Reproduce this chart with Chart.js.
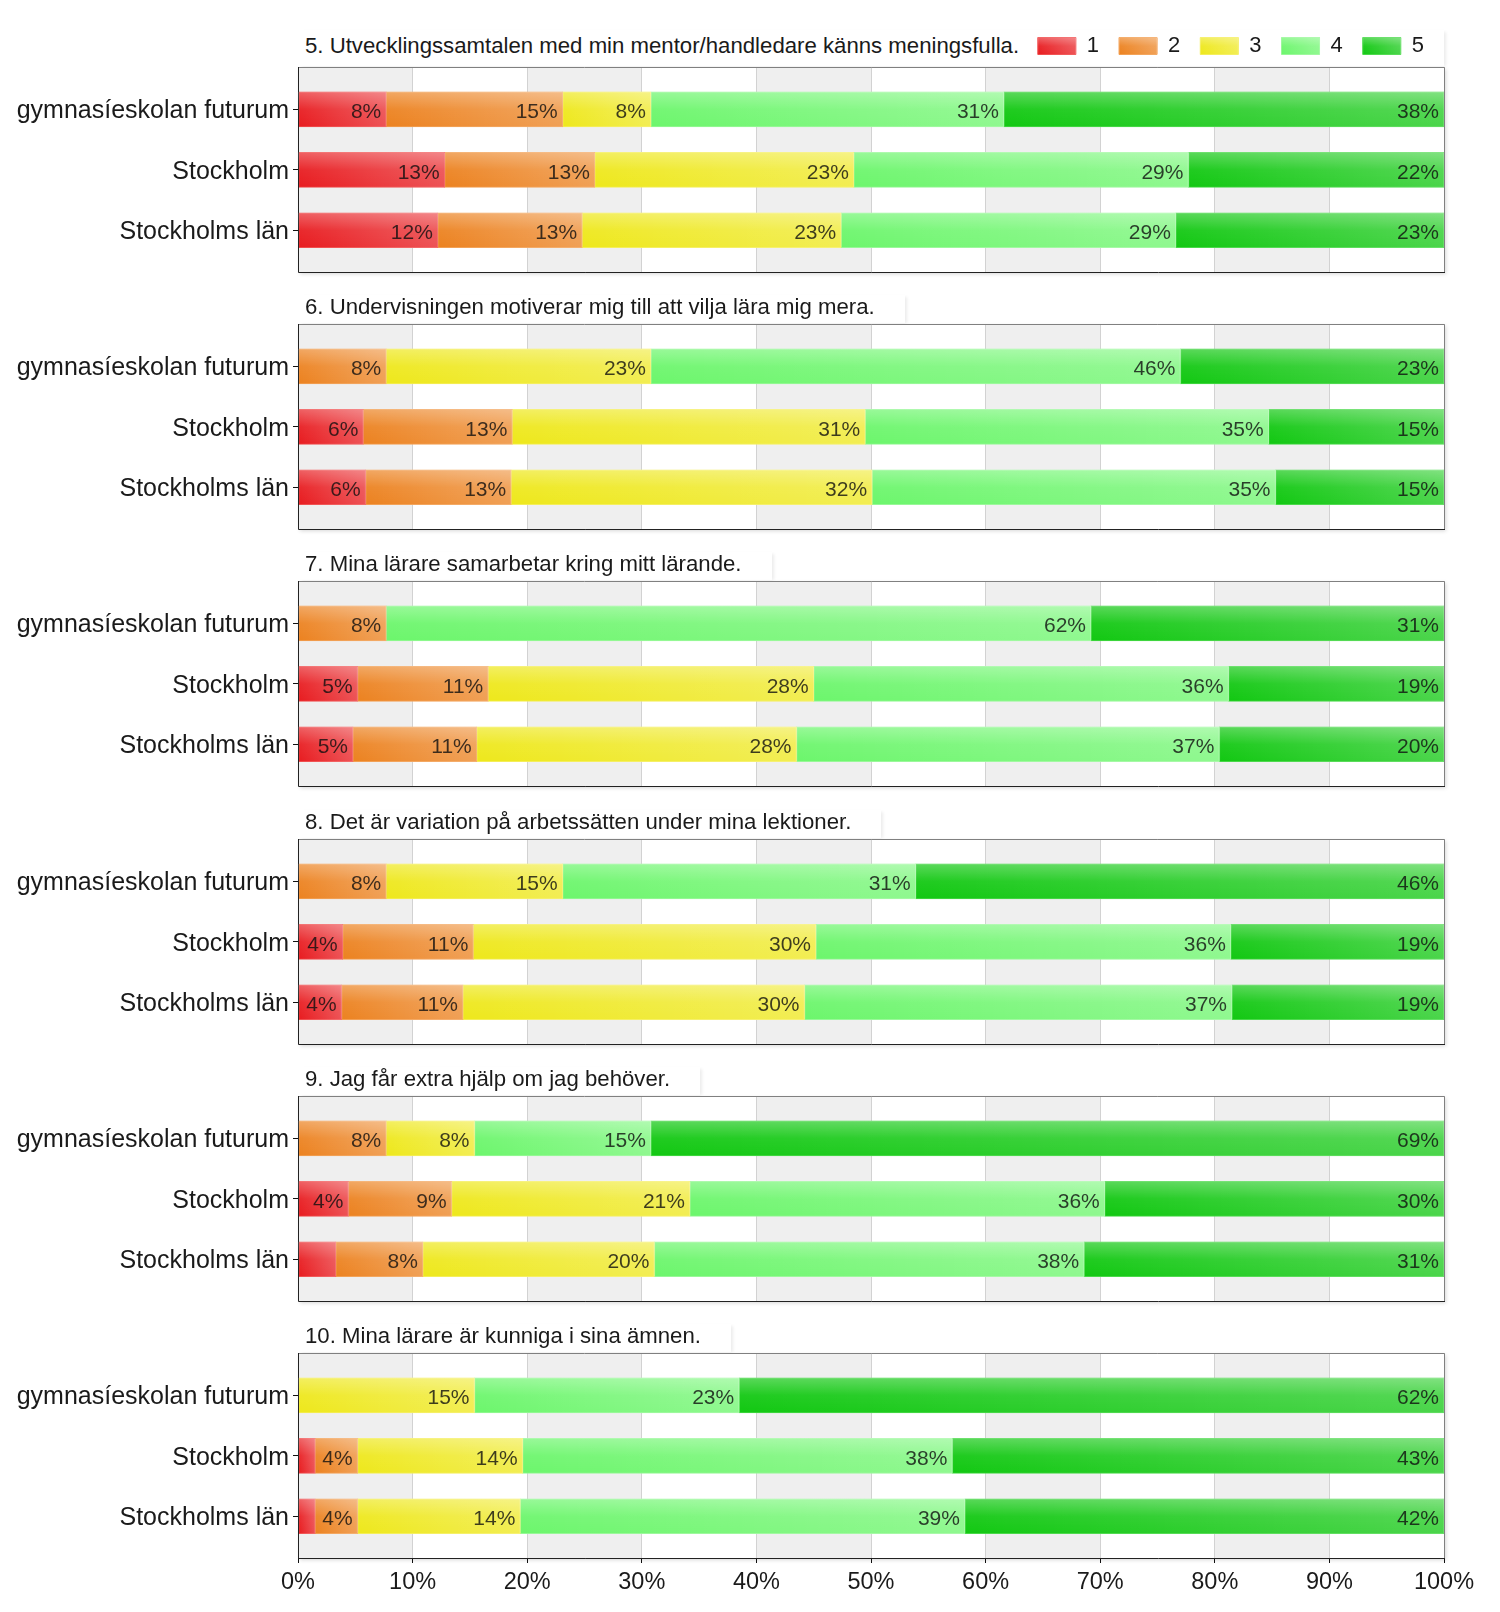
<!DOCTYPE html>
<html>
<head>
<meta charset="utf-8">
<title>Enkät</title>
<script src="https://cdn.jsdelivr.net/npm/chart.js@4.4.0/dist/chart.umd.min.js"></script>
<style>
    html, body { margin: 0; padding: 0; background: #fff; }
    #page { position: relative; width: 1500px; height: 1612px; overflow: hidden; }
    .qtitle {
        position: absolute; left: 298px; box-sizing: border-box;
        padding: 0 30px 0 7px; height: 28px; line-height: 24px;
        font-family: "Liberation Sans", Arial, sans-serif; font-size: 22.2px; color: #1a1a1a;
        background: #fff; white-space: nowrap;
        box-shadow: 3px 1px 3px -1px rgba(0, 0, 0, 0.08);
    }
    .panel { position: absolute; left: 0; width: 1500px; }
    canvas { display: block; }
</style>
</head>
<body>
<div id="page"></div>
<script>
const FONT = '"Liberation Sans", Arial, sans-serif';

const questions = [
    '5. Utvecklingssamtalen med min mentor/handledare känns meningsfulla.',
    '6. Undervisningen motiverar mig till att vilja lära mig mera.',
    '7. Mina lärare samarbetar kring mitt lärande.',
    '8. Det är variation på arbetssätten under mina lektioner.',
    '9. Jag får extra hjälp om jag behöver.',
    '10. Mina lärare är kunniga i sina ämnen.'
];
const categories = ['gymnasíeskolan futurum', 'Stockholm', 'Stockholms län'];
const levels = ['1', '2', '3', '4', '5'];
const xTickLabels = ['0%', '10%', '20%', '30%', '40%', '50%', '60%', '70%', '80%', '90%', '100%'];

// share of answers (%) for level 1..5, one row per category
const q5 = [
    [7.7, 15.4, 7.7, 30.8, 38.4],
    [12.8, 13.1, 22.6, 29.2, 22.3],
    [12.2, 12.6, 22.6, 29.2, 23.4]
];
const q6 = [
    [0, 7.7, 23.1, 46.2, 23.0],
    [5.7, 13.0, 30.8, 35.2, 15.3],
    [5.9, 12.7, 31.5, 35.2, 14.7]
];
const q7 = [
    [0, 7.7, 0, 61.5, 30.8],
    [5.2, 11.4, 28.4, 36.2, 18.8],
    [4.8, 10.8, 27.9, 36.9, 19.6]
];
const q8 = [
    [0, 7.7, 15.4, 30.8, 46.1],
    [3.9, 11.4, 29.9, 36.2, 18.6],
    [3.8, 10.6, 29.8, 37.3, 18.5]
];
const q9 = [
    [0, 7.7, 7.7, 15.4, 69.2],
    [4.4, 9.0, 20.8, 36.2, 29.6],
    [3.3, 7.6, 20.2, 37.5, 31.4]
];
const q10 = [
    [0, 0, 15.4, 23.1, 61.5],
    [1.5, 3.7, 14.4, 37.5, 42.9],
    [1.5, 3.7, 14.2, 38.8, 41.8]
];
const answers = [q5, q6, q7, q8, q9, q10];

const fills = ['#e81c20', '#ec8220', '#eee81c', '#6cf66c', '#12c812'];
const edges = ['#f04a4a', '#f29e50', '#f4ee55', '#96f896', '#46d846'];

// top of each plot area in the page
const panelTops = [67, 324, 581, 839, 1096, 1353];
const PLOT_H = 205;
const BELOW = 30;

Chart.defaults.font.family = FONT;

/**
 * Glossy highlight over a bar or legend swatch
 */
function gloss(ctx, x, y, w, h) {
    ctx.save();
    let g = ctx.createLinearGradient(x, 0, x + w, 0);
    g.addColorStop(0, 'rgba(255,255,255,0)');
    g.addColorStop(1, 'rgba(255,255,255,0.24)');
    ctx.fillStyle = g;
    ctx.fillRect(x, y, w, h);
    g = ctx.createLinearGradient(0, y, 0, y + h);
    g.addColorStop(0, 'rgba(255,255,255,0.3)');
    g.addColorStop(0.5, 'rgba(255,255,255,0.06)');
    g.addColorStop(1, 'rgba(255,255,255,0)');
    ctx.fillStyle = g;
    ctx.fillRect(x, y, w, h);
    ctx.restore();
}

// plot background: shadow, alternating bands, frame
const plotFrame = {
    id: 'plotFrame',
    beforeDraw(chart) {
        const {ctx, chartArea: a, scales: {x}} = chart;
        ctx.save();
        ctx.shadowColor = 'rgba(0,0,0,0.16)';
        ctx.shadowBlur = 4;
        ctx.shadowOffsetX = 2;
        ctx.shadowOffsetY = 2;
        ctx.fillStyle = '#fff';
        ctx.fillRect(a.left, a.top, a.width, a.height);
        ctx.restore();

        ctx.save();
        ctx.fillStyle = '#efefef';
        x.ticks.forEach((t, i) => {
            if (i % 2 === 0 && i < x.ticks.length - 1) {
                const x0 = x.getPixelForValue(t.value);
                const x1 = x.getPixelForValue(x.ticks[i + 1].value);
                ctx.fillRect(x0, a.top, x1 - x0, a.height);
            }
        });
        ctx.restore();
    },
    afterDatasetsDraw(chart) {
        const {ctx, chartArea: a} = chart;
        ctx.save();
        ctx.lineWidth = 1;
        ctx.strokeStyle = '#808080';
        ctx.beginPath();
        ctx.moveTo(a.left, a.top + 0.5);
        ctx.lineTo(a.right + 0.5, a.top + 0.5);
        ctx.lineTo(a.right + 0.5, a.bottom);
        ctx.stroke();
        ctx.strokeStyle = '#222';
        ctx.beginPath();
        ctx.moveTo(a.left + 0.5, a.top);
        ctx.lineTo(a.left + 0.5, a.bottom + 0.5);
        ctx.lineTo(a.right + 1, a.bottom + 0.5);
        ctx.stroke();
        ctx.restore();
    }
};

// gloss on the bars and the percentage labels
const glossLabels = {
    id: 'glossLabels',
    afterDatasetsDraw(chart) {
        const ctx = chart.ctx;
        chart.data.datasets.forEach((ds, k) => {
            chart.getDatasetMeta(k).data.forEach((bar, j) => {
                const left = Math.min(bar.base, bar.x);
                const right = Math.max(bar.base, bar.x);
                const w = right - left;
                if (w < 1) return;
                const top = bar.y - bar.height / 2;
                gloss(ctx, left, top, w, bar.height);

                const text = Math.round(ds.data[j].x) + '%';
                ctx.save();
                ctx.font = '21px ' + FONT;
                if (ctx.measureText(text).width + 10 <= w) {
                    ctx.fillStyle = 'rgba(15,15,15,0.8)';
                    ctx.textAlign = 'right';
                    ctx.textBaseline = 'middle';
                    ctx.fillText(text, right - 5, bar.y + 3);
                }
                ctx.restore();
            });
        });
    },
    afterDraw(chart) {
        const legend = chart.legend;
        if (!legend || !legend.options.display) return;
        const lab = legend.options.labels;
        legend.legendHitBoxes.forEach(hb => {
            const y = hb.top + Math.max((lab.font.size - lab.boxHeight) / 2, 0);
            gloss(chart.ctx, hb.left, y, lab.boxWidth, lab.boxHeight);
        });
    }
};

function makePanel(idx) {
    const first = idx === 0;
    const last = idx === answers.length - 1;
    const top = panelTops[idx];
    const rows = answers[idx];
    const page = document.getElementById('page');

    // question title box
    const t = document.createElement('div');
    t.className = 'qtitle';
    t.textContent = questions[idx];
    if (first) {
        t.style.top = '30px';
        t.style.height = '36px';
        t.style.lineHeight = '32px';
        t.style.width = (1444 - 298) + 'px';
    } else {
        t.style.top = (top - 29) + 'px';
    }
    page.appendChild(t);

    const wrap = document.createElement('div');
    wrap.className = 'panel';
    const canvasTop = top - 67;
    const h = last ? 1612 - canvasTop : 67 + PLOT_H + BELOW;
    wrap.style.top = canvasTop + 'px';
    wrap.style.height = h + 'px';
    const canvas = document.createElement('canvas');
    canvas.width = 1500;
    canvas.height = h;
    wrap.appendChild(canvas);
    page.appendChild(wrap);

    new Chart(canvas.getContext('2d'), {
        type: 'bar',
        data: {
            datasets: levels.map((lv, k) => ({
                label: lv,
                data: rows.map((r, j) => ({x: r[k], y: j})),
                backgroundColor: fills[k],
                borderColor: edges[k],
                borderWidth: 1,
                borderSkipped: false,
                barThickness: 35
            }))
        },
        options: {
            indexAxis: 'y',
            responsive: false,
            animation: false,
            layout: {
                padding: {top: first ? 15 : 67, right: 56, bottom: last ? 0 : BELOW, left: 0}
            },
            plugins: {
                legend: {
                    display: first,
                    position: 'top',
                    align: 'end',
                    labels: {
                        boxWidth: 38,
                        boxHeight: 17,
                        padding: 20,
                        color: '#1a1a1a',
                        font: {size: 22}
                    }
                },
                tooltip: {enabled: false}
            },
            scales: {
                x: {
                    type: 'linear',
                    min: 0,
                    max: 100,
                    stacked: true,
                    border: {display: false},
                    grid: {color: '#d2d2d2', drawTicks: last, tickLength: 5, tickColor: '#111'},
                    ticks: {
                        display: last,
                        stepSize: 10,
                        padding: 5,
                        color: '#1a1a1a',
                        font: {size: 23.5},
                        callback: (v, i) => xTickLabels[i]
                    },
                    afterFit: s => { s.height = last ? 54 : 0; }
                },
                y: {
                    type: 'linear',
                    min: -0.7,
                    max: 2.69,
                    reverse: true,
                    stacked: true,
                    offset: false,
                    border: {display: false},
                    grid: {drawOnChartArea: false, offset: false, tickLength: 5, tickColor: '#111'},
                    afterBuildTicks: s => { s.ticks = categories.map((c, j) => ({value: j})); },
                    ticks: {
                        padding: 4,
                        labelOffset: 2,
                        color: '#1a1a1a',
                        font: {size: 25},
                        callback: v => categories[v]
                    },
                    afterFit: s => { s.width = 298; }
                }
            }
        },
        plugins: [plotFrame, glossLabels]
    });
}

answers.forEach((a, i) => makePanel(i));
</script>
</body>
</html>
